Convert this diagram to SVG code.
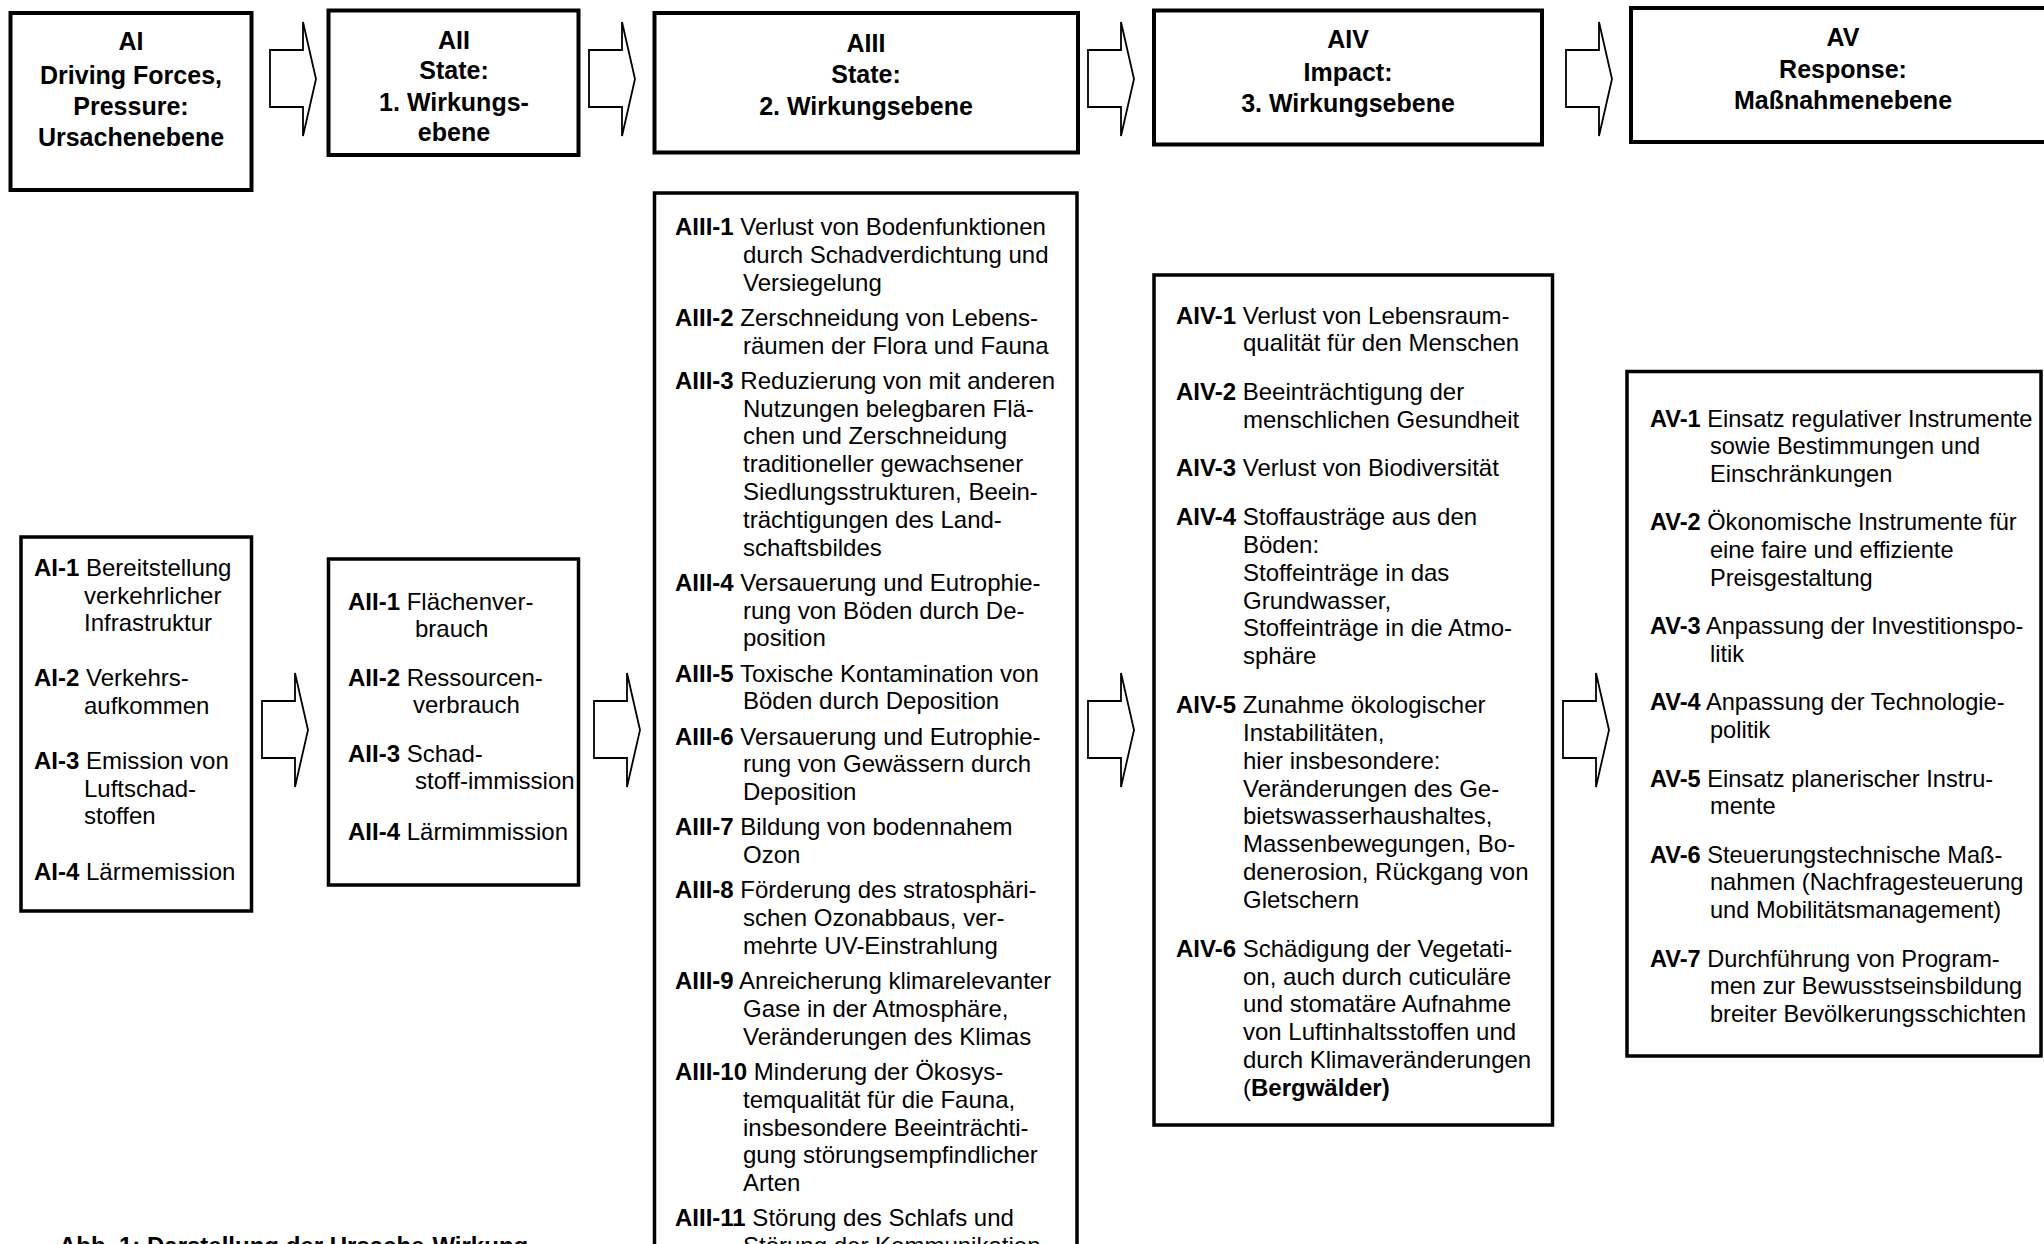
<svg xmlns="http://www.w3.org/2000/svg" xmlns:xlink="http://www.w3.org/1999/xlink" width="2044" height="1244" viewBox="0 0 2044 1244">
<style>
.box{fill:#fff;stroke:#000;stroke-width:4}
.lbox{fill:#fff;stroke:#000;stroke-width:3.5}
.arr{fill:#fff;stroke:#000;stroke-width:1.8;stroke-linejoin:miter}
.hd{font-family:"Liberation Sans",Arial,sans-serif;font-weight:bold;font-size:25px;text-anchor:middle;fill:#000}
.t{font-family:"Liberation Sans",Arial,sans-serif;font-size:24px;fill:#000}
.tv{font-family:"Liberation Sans",Arial,sans-serif;font-size:23.6px;fill:#000}
.b{font-weight:bold}
.cap{font-family:"Liberation Sans",Arial,sans-serif;font-size:24px;font-weight:bold;fill:#000}
</style>
<defs>
<path id="arrow" class="arr" d="M0,28 H33 V0 L46,57 L33,114 V85 H0 Z"/>
</defs>
<rect width="2044" height="1244" fill="#fff"/>

<g id="connectors">
<use xlink:href="#arrow" href="#arrow" transform="translate(270,22)"/>
<use xlink:href="#arrow" href="#arrow" transform="translate(589,22)"/>
<use xlink:href="#arrow" href="#arrow" transform="translate(1088,22)"/>
<use xlink:href="#arrow" href="#arrow" transform="translate(1566,22)"/>
<use xlink:href="#arrow" href="#arrow" transform="translate(262,673)"/>
<use xlink:href="#arrow" href="#arrow" transform="translate(594,673)"/>
<use xlink:href="#arrow" href="#arrow" transform="translate(1088,673)"/>
<use xlink:href="#arrow" href="#arrow" transform="translate(1563,673)"/>
</g>

<g id="AI-head">
<rect class="box" x="10.5" y="13" width="241" height="177"/>
<text class="hd" x="131" y="50">AI</text>
<text class="hd" x="131" y="84">Driving Forces,</text>
<text class="hd" x="131" y="115">Pressure:</text>
<text class="hd" x="131" y="146">Ursachenebene</text>
</g>

<g id="AII-head">
<rect class="box" x="328.5" y="10.5" width="250" height="144.5"/>
<text class="hd" x="454" y="49">AII</text>
<text class="hd" x="454" y="79">State:</text>
<text class="hd" x="454" y="111">1. Wirkungs-</text>
<text class="hd" x="454" y="141">ebene</text>
</g>

<g id="AIII-head">
<rect class="box" x="654.5" y="13" width="423.5" height="139.5"/>
<text class="hd" x="866" y="52">AIII</text>
<text class="hd" x="866" y="83">State:</text>
<text class="hd" x="866" y="115">2. Wirkungsebene</text>
</g>

<g id="AIV-head">
<rect class="box" x="1154" y="10.5" width="388" height="134"/>
<text class="hd" x="1348" y="48">AIV</text>
<text class="hd" x="1348" y="81">Impact:</text>
<text class="hd" x="1348" y="112">3. Wirkungsebene</text>
</g>

<g id="AV-head">
<rect class="box" x="1631" y="8" width="430" height="134"/>
<text class="hd" x="1843" y="46">AV</text>
<text class="hd" x="1843" y="78">Response:</text>
<text class="hd" x="1843" y="109">Maßnahmenebene</text>
</g>

<g id="AI-list">
<rect class="lbox" x="21" y="537" width="230.5" height="374"/>
<text class="t" x="34" y="576"><tspan class="b">AI-1</tspan> Bereitstellung</text>
<text class="t" x="84" y="603.6">verkehrlicher</text>
<text class="t" x="84" y="631.2">Infrastruktur</text>
<text class="t" x="34" y="686.4"><tspan class="b">AI-2</tspan> Verkehrs-</text>
<text class="t" x="84" y="714">aufkommen</text>
<text class="t" x="34" y="769.2"><tspan class="b">AI-3</tspan> Emission von</text>
<text class="t" x="84" y="796.8">Luftschad-</text>
<text class="t" x="84" y="824.4">stoffen</text>
<text class="t" x="34" y="879.6"><tspan class="b">AI-4</tspan> Lärmemission</text>
</g>

<g id="AII-list">
<rect class="lbox" x="328.5" y="559" width="250" height="326"/>
<text class="t" x="348" y="610"><tspan class="b">AII-1</tspan> Flächenver-</text>
<text class="t" x="415" y="637">brauch</text>
<text class="t" x="348" y="686"><tspan class="b">AII-2</tspan> Ressourcen-</text>
<text class="t" x="413" y="713">verbrauch</text>
<text class="t" x="348" y="762"><tspan class="b">AII-3</tspan> Schad-</text>
<text class="t" x="415" y="789">stoff-immission</text>
<text class="t" x="348" y="840"><tspan class="b">AII-4</tspan> Lärmimmission</text>
</g>

<g id="AIII-list">
<rect class="lbox" x="654.5" y="193" width="422.5" height="1070"/>
<text class="t" x="675" y="235"><tspan class="b">AIII-1</tspan> Verlust von Bodenfunktionen</text>
<text class="t" x="743" y="262.8">durch Schadverdichtung und</text>
<text class="t" x="743" y="290.6">Versiegelung</text>
<text class="t" x="675" y="325.8"><tspan class="b">AIII-2</tspan> Zerschneidung von Lebens-</text>
<text class="t" x="743" y="353.6">räumen der Flora und Fauna</text>
<text class="t" x="675" y="388.8"><tspan class="b">AIII-3</tspan> Reduzierung von mit anderen</text>
<text class="t" x="743" y="416.6">Nutzungen belegbaren Flä-</text>
<text class="t" x="743" y="444.4">chen und Zerschneidung</text>
<text class="t" x="743" y="472.2">traditioneller gewachsener</text>
<text class="t" x="743" y="500">Siedlungsstrukturen, Beein-</text>
<text class="t" x="743" y="527.8">trächtigungen des Land-</text>
<text class="t" x="743" y="555.6">schaftsbildes</text>
<text class="t" x="675" y="590.8"><tspan class="b">AIII-4</tspan> Versauerung und Eutrophie-</text>
<text class="t" x="743" y="618.6">rung von Böden durch De-</text>
<text class="t" x="743" y="646.4">position</text>
<text class="t" x="675" y="681.6"><tspan class="b">AIII-5</tspan> Toxische Kontamination von</text>
<text class="t" x="743" y="709.4">Böden durch Deposition</text>
<text class="t" x="675" y="744.6"><tspan class="b">AIII-6</tspan> Versauerung und Eutrophie-</text>
<text class="t" x="743" y="772.4">rung von Gewässern durch</text>
<text class="t" x="743" y="800.2">Deposition</text>
<text class="t" x="675" y="835.4"><tspan class="b">AIII-7</tspan> Bildung von bodennahem</text>
<text class="t" x="743" y="863.2">Ozon</text>
<text class="t" x="675" y="898.4"><tspan class="b">AIII-8</tspan> Förderung des stratosphäri-</text>
<text class="t" x="743" y="926.2">schen Ozonabbaus, ver-</text>
<text class="t" x="743" y="954">mehrte UV-Einstrahlung</text>
<text class="t" x="675" y="989.2"><tspan class="b">AIII-9</tspan> Anreicherung klimarelevanter</text>
<text class="t" x="743" y="1017">Gase in der Atmosphäre,</text>
<text class="t" x="743" y="1044.8">Veränderungen des Klimas</text>
<text class="t" x="675" y="1080"><tspan class="b">AIII-10</tspan> Minderung der Ökosys-</text>
<text class="t" x="743" y="1107.8">temqualität für die Fauna,</text>
<text class="t" x="743" y="1135.6">insbesondere Beeinträchti-</text>
<text class="t" x="743" y="1163.4">gung störungsempfindlicher</text>
<text class="t" x="743" y="1191.2">Arten</text>
<text class="t" x="675" y="1226.4"><tspan class="b">AIII-11</tspan> Störung des Schlafs und</text>
<text class="t" x="743" y="1254.2">Störung der Kommunikation</text>
</g>

<g id="AIV-list">
<rect class="lbox" x="1154" y="275" width="398.5" height="850"/>
<text class="t" x="1176" y="323.5"><tspan class="b">AIV-1</tspan> Verlust von Lebensraum-</text>
<text class="t" x="1243" y="351.4">qualität für den Menschen</text>
<text class="t" x="1176" y="399.9"><tspan class="b">AIV-2</tspan> Beeinträchtigung der</text>
<text class="t" x="1243" y="427.8">menschlichen Gesundheit</text>
<text class="t" x="1176" y="476.3"><tspan class="b">AIV-3</tspan> Verlust von Biodiversität</text>
<text class="t" x="1176" y="524.8"><tspan class="b">AIV-4</tspan> Stoffausträge aus den</text>
<text class="t" x="1243" y="552.7">Böden:</text>
<text class="t" x="1243" y="580.6">Stoffeinträge in das</text>
<text class="t" x="1243" y="608.5">Grundwasser,</text>
<text class="t" x="1243" y="636.4">Stoffeinträge in die Atmo-</text>
<text class="t" x="1243" y="664.3">sphäre</text>
<text class="t" x="1176" y="712.8"><tspan class="b">AIV-5</tspan> Zunahme ökologischer</text>
<text class="t" x="1243" y="740.7">Instabilitäten,</text>
<text class="t" x="1243" y="768.6">hier insbesondere:</text>
<text class="t" x="1243" y="796.5">Veränderungen des Ge-</text>
<text class="t" x="1243" y="824.4">bietswasserhaushaltes,</text>
<text class="t" x="1243" y="852.3">Massenbewegungen, Bo-</text>
<text class="t" x="1243" y="880.2">denerosion, Rückgang von</text>
<text class="t" x="1243" y="908.1">Gletschern</text>
<text class="t" x="1176" y="956.6"><tspan class="b">AIV-6</tspan> Schädigung der Vegetati-</text>
<text class="t" x="1243" y="984.5">on, auch durch cuticuläre</text>
<text class="t" x="1243" y="1012.4">und stomatäre Aufnahme</text>
<text class="t" x="1243" y="1040.3">von Luftinhaltsstoffen und</text>
<text class="t" x="1243" y="1068.2">durch Klimaveränderungen</text>
<text class="t" x="1243" y="1096.1">(<tspan class="b">Bergwälder)</tspan></text>
</g>

<g id="AV-list">
<rect class="lbox" x="1627" y="371.5" width="414" height="684.5"/>
<text class="tv" x="1650" y="426.5"><tspan class="b">AV-1</tspan> Einsatz regulativer Instrumente</text>
<text class="tv" x="1710" y="454.3">sowie Bestimmungen und</text>
<text class="tv" x="1710" y="482.1">Einschränkungen</text>
<text class="tv" x="1650" y="530.4"><tspan class="b">AV-2</tspan> Ökonomische Instrumente für</text>
<text class="tv" x="1710" y="558.2">eine faire und effiziente</text>
<text class="tv" x="1710" y="586">Preisgestaltung</text>
<text class="tv" x="1650" y="634.3"><tspan class="b">AV-3</tspan> Anpassung der Investitionspo-</text>
<text class="tv" x="1710" y="662.1">litik</text>
<text class="tv" x="1650" y="710.4"><tspan class="b">AV-4</tspan> Anpassung der Technologie-</text>
<text class="tv" x="1710" y="738.2">politik</text>
<text class="tv" x="1650" y="786.5"><tspan class="b">AV-5</tspan> Einsatz planerischer Instru-</text>
<text class="tv" x="1710" y="814.3">mente</text>
<text class="tv" x="1650" y="862.6"><tspan class="b">AV-6</tspan> Steuerungstechnische Maß-</text>
<text class="tv" x="1710" y="890.4">nahmen (Nachfragesteuerung</text>
<text class="tv" x="1710" y="918.2">und Mobilitätsmanagement)</text>
<text class="tv" x="1650" y="966.5"><tspan class="b">AV-7</tspan> Durchführung von Program-</text>
<text class="tv" x="1710" y="994.3">men zur Bewusstseinsbildung</text>
<text class="tv" x="1710" y="1022.1">breiter Bevölkerungsschichten</text>
</g>

<text class="cap" x="59" y="1254">Abb. 1: Darstellung der Ursache-Wirkung</text>
</svg>
